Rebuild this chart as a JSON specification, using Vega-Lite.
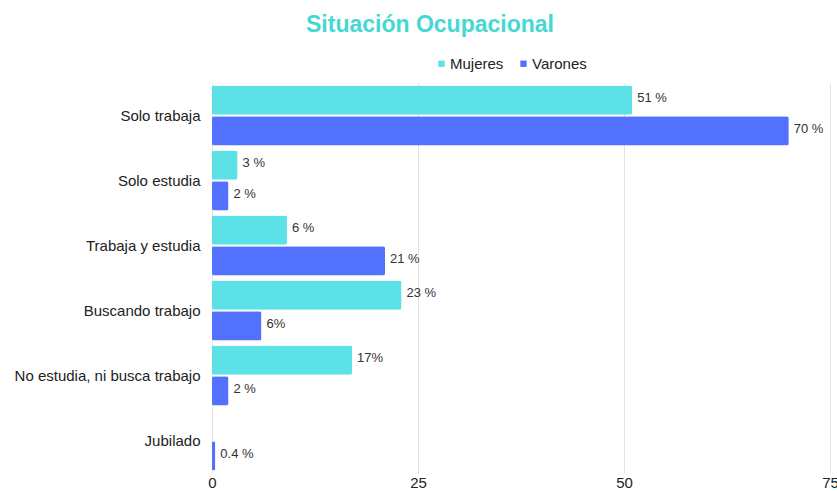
{
  "$schema": "https://vega.github.io/schema/vega-lite/v6.json",
  "autosize": "none",
  "width": 618,
  "height": 390,
  "padding": {"left": 212, "top": 83, "right": 7, "bottom": 18},
  "background": "white",
  "title": {
    "text": "Situación Ocupacional",
    "font": "Liberation Sans",
    "fontSize": 23,
    "fontWeight": "bold",
    "color": "#45D8D3",
    "anchor": "middle",
    "dx": -91,
    "offset": 19
  },
  "data": {
    "values": [
      {"cat": "Solo trabaja", "g": "Mujeres", "v": 51, "lab": "51 %"},
      {"cat": "Solo trabaja", "g": "Varones", "v": 70, "lab": "70 %"},
      {"cat": "Solo estudia", "g": "Mujeres", "v": 3.1, "lab": "3 %"},
      {"cat": "Solo estudia", "g": "Varones", "v": 2, "lab": "2 %"},
      {"cat": "Trabaja y estudia", "g": "Mujeres", "v": 9.1, "lab": "6 %"},
      {"cat": "Trabaja y estudia", "g": "Varones", "v": 21, "lab": "21 %"},
      {"cat": "Buscando trabajo", "g": "Mujeres", "v": 23, "lab": "23 %"},
      {"cat": "Buscando trabajo", "g": "Varones", "v": 6, "lab": "6%"},
      {"cat": "No estudia, ni busca trabajo", "g": "Mujeres", "v": 17, "lab": "17%"},
      {"cat": "No estudia, ni busca trabajo", "g": "Varones", "v": 2, "lab": "2 %"},
      {"cat": "Jubilado", "g": "Mujeres", "v": 0, "lab": ""},
      {"cat": "Jubilado", "g": "Varones", "v": 0.4, "lab": "0.4 %"}
    ]
  },
  "encoding": {
    "y": {
      "field": "cat",
      "type": "nominal",
      "sort": null,
      "title": null,
      "scale": {"paddingInner": 0.08, "paddingOuter": 0.04},
      "axis": {
        "ticks": false,
        "domain": false,
        "labelFont": "Liberation Sans",
        "labelFontSize": 15,
        "labelColor": "#222222",
        "labelPadding": 12,
        "labelLimit": 250
      }
    },
    "yOffset": {"field": "g", "type": "nominal", "scale": {"paddingInner": 0.05}},
    "x": {
      "field": "v",
      "type": "quantitative",
      "title": null,
      "scale": {"domain": [0, 75], "nice": false},
      "axis": {
        "values": [0, 25, 50, 75],
        "ticks": false,
        "domain": false,
        "grid": true,
        "gridColor": "#e2e2e2",
        "labelFont": "Liberation Sans",
        "labelFontSize": 15,
        "labelColor": "#222222",
        "labelPadding": 2,
        "labelFlush": false
      }
    },
    "color": {
      "field": "g",
      "type": "nominal",
      "scale": {"domain": ["Mujeres", "Varones"], "range": ["#5CE1E6", "#5271FF"]},
      "legend": {
        "title": null,
        "orient": "none",
        "direction": "horizontal",
        "legendX": 222,
        "legendY": -27,
        "symbolType": "square",
        "symbolSize": 40,
        "labelFont": "Liberation Sans",
        "labelFontSize": 15,
        "labelColor": "#222222",
        "columnPadding": 12,
        "labelOffset": 1
      }
    }
  },
  "layer": [
    {"mark": {"type": "bar", "cornerRadius": 2}},
    {
      "mark": {"type": "text", "align": "left", "baseline": "middle", "dx": 5, "dy": -2, "font": "Liberation Sans", "fontSize": 13, "color": "#333333"},
      "encoding": {"text": {"field": "lab"}, "color": {"value": "#333333"}}
    }
  ],
  "config": {"view": {"stroke": null}}
}
